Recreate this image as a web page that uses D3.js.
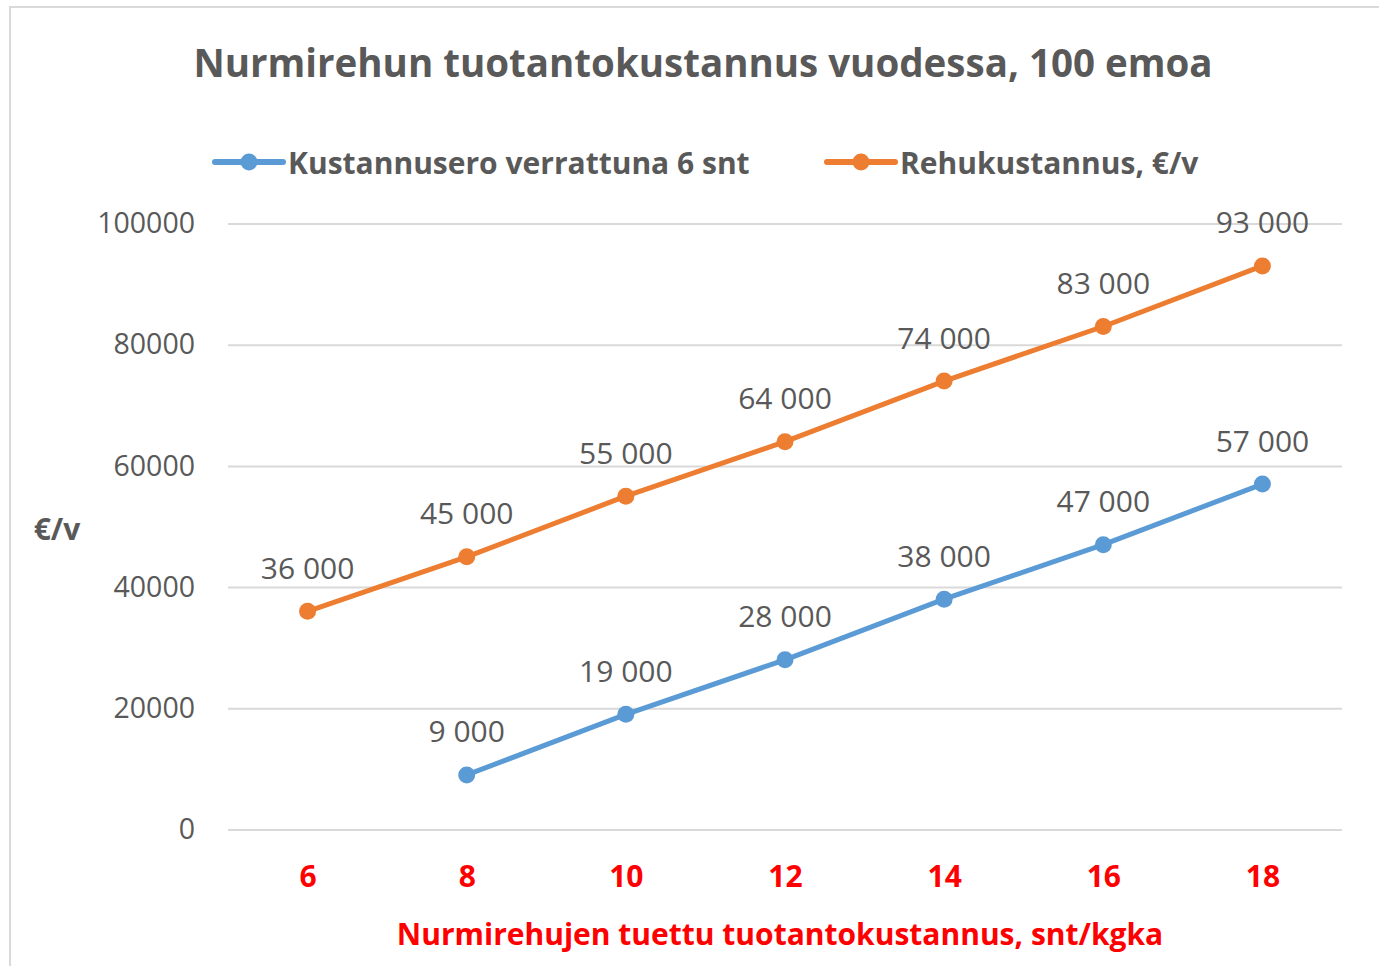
<!DOCTYPE html>
<html>
<head>
<meta charset="utf-8">
<script src="https://cdn.jsdelivr.net/npm/d3@7"></script>
<style>
  body { margin: 0; background: #fff; }
  text { font-family: "Open Sans", "Noto Sans", sans-serif; }
</style>
</head>
<body>
<div id="plot"></div>
<script>
// chart data
var categories = [6, 8, 10, 12, 14, 16, 18];
var kustannusero = [null, 9000, 19000, 28000, 38000, 47000, 57000];
var rehukustannus = [36000, 45000, 55000, 64000, 74000, 83000, 93000];
var yTicks = [0, 20000, 40000, 60000, 80000, 100000];
var seriesNames = ["Kustannusero verrattuna 6 snt", "Rehukustannus, €/v"];
var seriesColors = ["#5B9BD5", "#ED7D31"];

var svgWidth = 1379, svgHeight = 966;
var margin = { top: 223.5, right: 37, bottom: 136.5, left: 228 };
var width = svgWidth - margin.left - margin.right;
var height = svgHeight - margin.top - margin.bottom;

var svg = d3.select("#plot").append("svg")
    .attr("width", svgWidth)
    .attr("height", svgHeight);

// outer frame
svg.append("rect")
    .attr("x", 10).attr("y", 7)
    .attr("width", 1400).attr("height", 1000)
    .attr("fill", "none")
    .attr("stroke", "#d9d9d9")
    .attr("stroke-width", 2);

var chartGroup = svg.append("g")
    .attr("transform", `translate(${margin.left}, ${margin.top})`);

var xScale = d3.scalePoint()
    .domain(categories)
    .range([0, width])
    .padding(0.5);

var yScale = d3.scaleLinear()
    .domain([0, 100000])
    .range([height, 0]);

// gridlines + y labels
var leftAxis = d3.axisLeft(yScale)
    .tickValues(yTicks)
    .tickSize(-width)
    .tickPadding(33)
    .tickFormat(d => d);
var yAxis = chartGroup.append("g").call(leftAxis);
yAxis.select(".domain").remove();
yAxis.selectAll("line").attr("stroke", "#d9d9d9").attr("stroke-width", 2);
yAxis.selectAll("text")
    .attr("fill", "#595959")
    .attr("font-size", "28.5px")
    .attr("font-family", "'Open Sans', sans-serif");

// x labels
var bottomAxis = d3.axisBottom(xScale).tickSize(0).tickPadding(36);
var xAxis = chartGroup.append("g")
    .attr("transform", `translate(0, ${height})`)
    .call(bottomAxis);
xAxis.select(".domain").remove();
xAxis.selectAll("text")
    .attr("fill", "#ff0000")
    .attr("font-size", "30px")
    .attr("font-weight", "bold")
    .attr("font-family", "'Open Sans', sans-serif");

// series
var allSeries = [kustannusero, rehukustannus];
allSeries.forEach(function (vals, i) {
    var pts = categories.map((c, j) => ({ c: c, v: vals[j] })).filter(d => d.v !== null);
    var line = d3.line().x(d => xScale(d.c)).y(d => yScale(d.v));
    chartGroup.append("path")
        .datum(pts)
        .attr("d", line)
        .attr("fill", "none")
        .attr("stroke", seriesColors[i])
        .attr("stroke-width", 5)
        .attr("stroke-linecap", "round");
    chartGroup.selectAll(".pt" + i)
        .data(pts).enter().append("circle")
        .attr("cx", d => xScale(d.c))
        .attr("cy", d => yScale(d.v))
        .attr("r", 8.5)
        .attr("fill", seriesColors[i]);
    chartGroup.selectAll(".lbl" + i)
        .data(pts).enter().append("text")
        .attr("x", d => xScale(d.c))
        .attr("y", d => yScale(d.v) - 44)
        .attr("text-anchor", "middle")
        .attr("dominant-baseline", "central")
        .attr("font-size", "30px")
        .attr("fill", "#595959")
        .text(d => d3.format(",")(d.v).replace(",", " "));
});

// title
svg.append("text")
    .attr("x", 703).attr("y", 62)
    .attr("text-anchor", "middle")
    .attr("dominant-baseline", "central")
    .attr("font-size", "38.5px")
    .attr("font-weight", "bold")
    .attr("fill", "#595959")
    .text("Nurmirehun tuotantokustannus vuodessa, 100 emoa");

// legend
var legendX = [215, 827];
seriesNames.forEach(function (name, i) {
    var g = svg.append("g").attr("transform", `translate(${legendX[i]}, 162)`);
    g.append("line")
        .attr("x1", 0).attr("x2", 68)
        .attr("stroke", seriesColors[i])
        .attr("stroke-width", 6)
        .attr("stroke-linecap", "round");
    g.append("circle").attr("cx", 34).attr("r", 8.5).attr("fill", seriesColors[i]);
    g.append("text")
        .attr("x", 73)
        .attr("dominant-baseline", "central")
        .attr("font-size", "30px")
        .attr("font-weight", "bold")
        .attr("fill", "#595959")
        .text(name);
});

// y axis title
svg.append("text")
    .attr("x", 57).attr("y", 528)
    .attr("text-anchor", "middle")
    .attr("dominant-baseline", "central")
    .attr("font-size", "30px")
    .attr("font-weight", "bold")
    .attr("fill", "#595959")
    .text("€/v");

// x axis title
svg.append("text")
    .attr("x", 780).attr("y", 933)
    .attr("text-anchor", "middle")
    .attr("dominant-baseline", "central")
    .attr("font-size", "30px")
    .attr("font-weight", "bold")
    .attr("fill", "#ff0000")
    .text("Nurmirehujen tuettu tuotantokustannus, snt/kgka");
</script>
</body>
</html>
